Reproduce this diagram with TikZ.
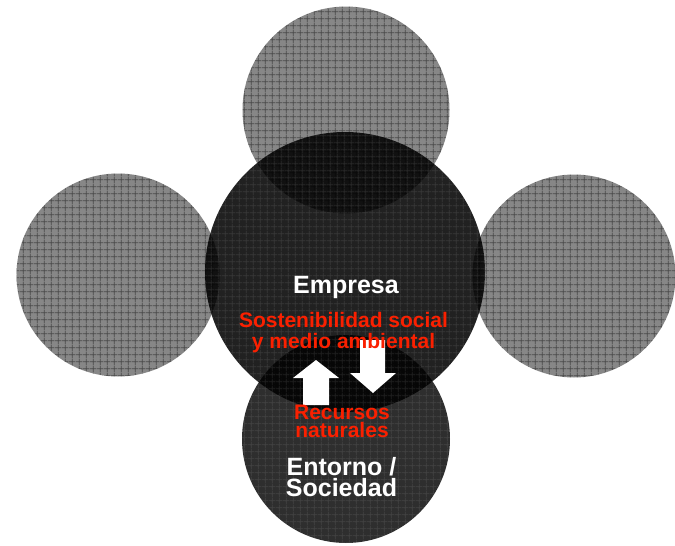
\documentclass[tikz,border=0pt]{standalone}
\usepackage{fontspec}
\setmainfont{Liberation Sans}
\usetikzlibrary{patterns.meta}
\definecolor{rtext}{RGB}{250,32,0}
\definecolor{sidegray}{RGB}{135,135,135}
\tikzdeclarepattern{
  name=finegrid,
  type=uncolored,
  bottom left={(0pt,0pt)},
  top right={(6.7pt,6.7pt)},
  tile size={(6.7pt,6.7pt)},
  code={\draw[line width=0.9pt] (0pt,3.35pt) -- (6.7pt,3.35pt) (3.35pt,0pt) -- (3.35pt,6.7pt);}
}
\begin{document}
\begin{tikzpicture}[x=1pt,y=-1pt,
  side/.style={fill=sidegray},
  sidegrid/.style={pattern=finegrid, pattern color=black, fill opacity=0.45},
  hub/.style={fill=black, fill opacity=0.87},
  hubgrid/.style={pattern=finegrid, pattern color=white, fill opacity=0.10},
  arrowshape/.style={fill=white, draw=none},
  bigwhite/.style={text=white, font=\bfseries\fontsize{25}{21}\selectfont, inner sep=0pt, anchor=base, align=center},
  redtext/.style={text=rtext, font=\bfseries\fontsize{21}{21}\selectfont, inner sep=0pt, anchor=base, align=center}]
\useasboundingbox (0,0) rectangle (675,546);
% side circles
\foreach \cx/\cy/\r in {346/110/103.5, 118/275/101.5, 574/276/101.5}{
  \fill[side] (\cx,\cy) circle[radius=\r pt];
  \fill[sidegrid] (\cx,\cy) circle[radius=\r pt];
}
% central circle
\fill[hub] (345,272) circle[radius=140pt];
\fill[hubgrid] (345,272) circle[radius=140pt];
% bottom circle
\fill[hub, fill opacity=0.82] (346,439) circle[radius=104pt];
\fill[hubgrid] (346,439) circle[radius=104pt];
% arrows
\fill[arrowshape] (316,360) -- (339,378) -- (329,378) -- (329,405) -- (303,405) -- (303,378) -- (293,378) -- cycle;
\fill[arrowshape] (373,393) -- (396,373) -- (385,373) -- (385,340) -- (360,340) -- (360,373) -- (350,373) -- cycle;
% texts
\node[bigwhite] (emp) at (346,293) {Empresa};
\node[redtext] (sost) at (343.5,348) {Sostenibilidad social\\y medio ambiental};
\node[redtext, font=\bfseries\fontsize{21}{18}\selectfont] (rec) at (342,437) {Recursos\\naturales};
\node[bigwhite] (ent) at (341.5,496) {Entorno /\\Sociedad};
\end{tikzpicture}
\end{document}
